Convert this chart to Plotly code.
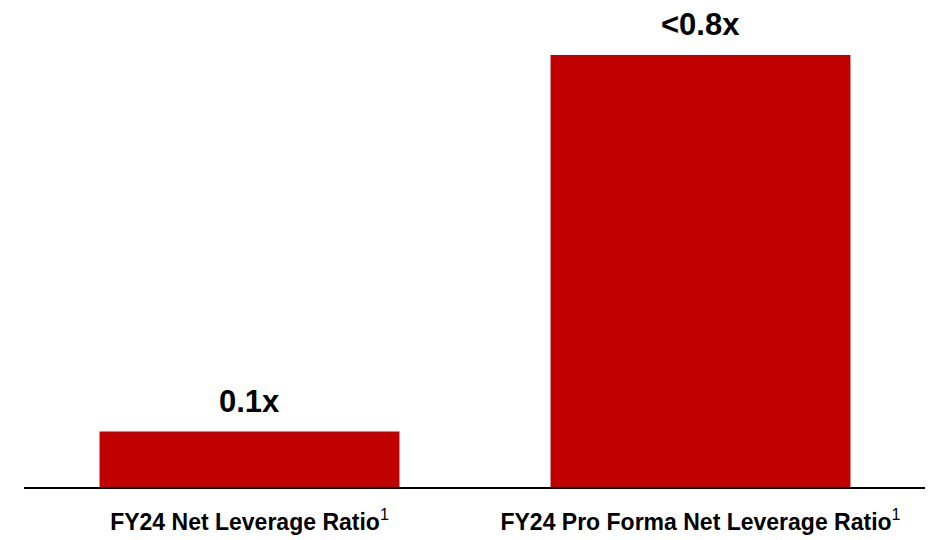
import plotly.graph_objects as go

categories = [
    "FY24 Net Leverage Ratio<sup><span style='font-weight:normal'>1</span></sup>",
    "FY24 Pro Forma Net Leverage Ratio<sup><span style='font-weight:normal'>1</span></sup>",
]
values = [0.1, 0.78]
labels = ["0.1x", "<0.8x"]

FONT = "Liberation Sans Narrow, Arial Narrow, Liberation Sans, Arial, sans-serif"
BAR_COLOR = "#C00000"

fig = go.Figure()
fig.add_trace(go.Bar(
    x=categories, y=values,
    marker=dict(color=BAR_COLOR, line=dict(width=0)),
    hoverinfo="skip",
))

for c, v, t in zip(categories, values, labels):
    fig.add_annotation(
        x=c, y=v, text=f"<b>{t}</b>", showarrow=False,
        yanchor="bottom", yshift=11,
        font=dict(family=FONT, size=31, color="#000000"),
    )

fig.update_layout(
    width=933, height=540,
    margin=dict(l=16, r=15, t=0, b=61),
    paper_bgcolor="white", plot_bgcolor="white",
    bargap=0.335,
    showlegend=False,
    xaxis=dict(
        showline=True, linecolor="#000000", linewidth=2,
        showgrid=False, zeroline=False, automargin=False,
        ticks="", ticklabelstandoff=13,
        tickfont=dict(family=FONT, size=23, color="#000000", weight="bold"),
    ),
    yaxis=dict(
        range=[0, 0.78 * 479 / 432], visible=False,
        showgrid=False, zeroline=False, automargin=False,
    ),
)

fig.write_html("out.html")
